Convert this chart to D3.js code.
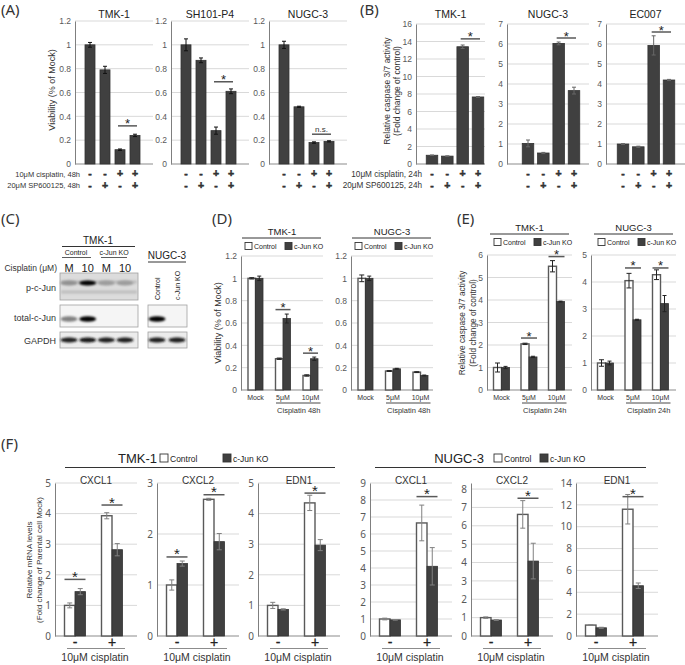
<!DOCTYPE html>
<html><head><meta charset="utf-8">
<script src="https://cdn.jsdelivr.net/npm/d3@7"></script>
<style>body{margin:0;background:#fff}</style>
</head><body>
<script>
// ---------------- DATA ----------------
const signCis = ["-","-","+","+"];
const signSp  = ["-","+","-","+"];

const aCells = ["TMK-1","SH101-P4","NUGC-3"];
const aViability    = [[1.00,0.79,0.12,0.24],[1.00,0.87,0.28,0.61],[1.00,0.48,0.18,0.19]];
const aViabilityErr = [[0.02,0.03,0.006,0.01],[0.05,0.02,0.03,0.02],[0.03,0.005,0.006,0.005]];
const aSigY = [0.32,0.69,0.25];
const aSigText = ["*","*","n.s."];
const aTicks = [0,0.2,0.4,0.6,0.8,1,1.2];

const bCells = ["TMK-1","NUGC-3","EC007"];
const bCaspase    = [[1.00,0.90,13.4,7.66],[1.03,0.55,6.03,3.67],[1.00,0.86,5.93,4.20]];
const bCaspaseErr = [[0.03,0.03,0.20,0.05],[0.17,0.03,0.07,0.17],[0.02,0.03,0.48,0.03]];
const bSigY = [14.3,6.3,6.6];
const bTicks = [[0,2,4,6,8,10,12,14,16],[0,1,2,3,4,5,6,7],[0,1,2,3,4,5,6,7]];

const cLanesTMK = ["M","10","M","10"];
const cGroupsTMK = ["Control","c-Jun KO"];
const cRows = ["p-c-Jun","total-c-Jun","GAPDH"];
const cPcJunTMK = [0.22,1.0,0.15,0.15];
const cTotalTMK = [0.3,1.0,0,0];
const cTotalNUGC = [1.0,0];
const cGapdhTMK = [0.85,0.9,0.85,0.85];
const cGapdhNUGC = [0.85,0.85];

const doseLabels = ["Mock","5μM","10μM"];
const dCells = ["TMK-1","NUGC-3"];
const dControl    = [[1.00,0.28,0.13],[1.00,0.17,0.16]];
const dControlErr = [[0.006,0.006,0.006],[0.03,0.004,0.004]];
const dKO         = [[1.00,0.64,0.28],[1.00,0.19,0.13]];
const dKOErr      = [[0.02,0.04,0.015],[0.02,0.004,0.004]];
const dSig = [[null,0.72,0.33],[null,null,null]];

const eCells = ["TMK-1","NUGC-3"];
const eControl    = [[1.00,2.05,5.50],[1.00,4.05,4.27]];
const eControlErr = [[0.20,0.03,0.25],[0.12,0.27,0.18]];
const eKO         = [[1.00,1.47,3.93],[1.00,2.60,3.20]];
const eKOErr      = [[0.05,0.03,0.02],[0.07,0.02,0.30]];
const eSig = [[null,2.31,5.93],[null,4.52,4.52]];
const eTicks = [[0,1,2,3,4,5,6],[0,1,2,3,4,5]];

const fGenes = ["CXCL1","CXCL2","EDN1"];
const fCis = ["-","+"];
const fTmkControl    = [[1.00,3.93],[1.00,2.68],[1.00,4.35]];
const fTmkControlErr = [[0.08,0.10],[0.10,0.02],[0.10,0.25]];
const fTmkKO         = [[1.45,2.82],[1.42,1.85],[0.87,2.97]];
const fTmkKOErr      = [[0.10,0.20],[0.05,0.16],[0.02,0.18]];
const fTmkSig = [[1.85,4.28],[1.55,2.77],[null,4.67]];
const fTmkTicks = [[0,1,2,3,4,5],[0,1,2,3],[0,1,2,3,4,5]];
const fNugControl    = [[1.00,6.65],[1.00,6.62],[1.00,11.6]];
const fNugControlErr = [[0.05,1.05],[0.04,0.75],[0.02,1.35]];
const fNugKO         = [[0.95,4.10],[0.87,4.08],[0.75,4.60]];
const fNugKOErr      = [[0.02,1.10],[0.02,0.97],[0.05,0.25]];
const fNugSig = [[null,8.2],[null,7.5],[null,12.75]];
const fNugTicks = [[0,1,2,3,4,5,6,7,8,9],[0,1,2,3,4,5,6,7,8],[0,2,4,6,8,10,12,14]];
const fNugMax = [9,8.33,14];

// ---------------- HELPERS ----------------
const svg = d3.select("body").append("svg").attr("width",685).attr("height",665);
const SANS = "'Liberation Sans', Arial, Helvetica, sans-serif";
const NOTO = "'Noto Sans', 'Open Sans', sans-serif";
const DARK = "#404040";
const defs = svg.append("defs");
defs.append("filter").attr("id","blur").attr("x","-50%").attr("y","-100%").attr("width","200%").attr("height","300%")
  .append("feGaussianBlur").attr("stdDeviation",1.1);

function text(x,y,s,o={}){
  const t = svg.append("text").attr("x",x).attr("y",y).text(s)
    .attr("font-family",o.ff||SANS).attr("font-size",o.fs||9)
    .attr("fill",o.fill||"#222").attr("text-anchor",o.anchor||"middle");
  if(o.fw) t.attr("font-weight",o.fw);
  if(o.stroke) t.attr("stroke",o.stroke).attr("stroke-width",o.sw||0.4);
  if(o.rot) t.attr("transform",`rotate(-90 ${x} ${y})`);
  return t;
}
function line(x1,y1,x2,y2,c="#555",w=1){
  return svg.append("line").attr("x1",x1).attr("y1",y1).attr("x2",x2).attr("y2",y2)
    .attr("stroke",c).attr("stroke-width",w);
}
function frame(o){
  const y = d3.scaleLinear().domain([0,o.max]).range([o.yb,o.yt]);
  svg.append("g").selectAll("line").data(o.ticks.filter(t=>t>0)).join("line")
    .attr("x1",o.x0).attr("x2",o.x1).attr("y1",d=>y(d)).attr("y2",d=>y(d))
    .attr("stroke","#d9d9d9").attr("stroke-width",1);
  const ax = svg.append("g").attr("transform",`translate(${o.x0},0)`)
    .call(d3.axisLeft(y).tickValues(o.ticks).tickSize(0).tickSizeOuter(0)
      .tickPadding(o.pad||4).tickFormat(d3.format("~g")));
  ax.select(".domain").attr("stroke","#7f7f7f").attr("stroke-width",1);
  ax.selectAll(".tick text").attr("font-family",o.ff||SANS).attr("font-size",o.fs||8.5).attr("fill","#595959");
  line(o.x0,o.yb,o.x1,o.yb,"#8c8c8c",1.2);
  return y;
}
function drawBars(y,xs,vals,errs,w,st){
  svg.append("g").selectAll("rect").data(vals).join("rect")
    .attr("x",(d,i)=>xs[i]-w/2+(st.shift||0)).attr("y",d=>y(d))
    .attr("width",w).attr("height",d=>y(0)-y(d))
    .attr("fill",st.fill).attr("stroke",st.stroke).attr("stroke-width",st.sw);
  const eg = svg.append("g").attr("stroke",st.err).attr("stroke-width",1);
  vals.forEach((v,i)=>{
    const x = xs[i]+(st.shift||0), lo=y(v-errs[i]), hi=y(v+errs[i]), c=st.cap/2;
    eg.append("line").attr("x1",x).attr("x2",x).attr("y1",lo).attr("y2",hi);
    eg.append("line").attr("x1",x-c).attr("x2",x+c).attr("y1",hi).attr("y2",hi);
    eg.append("line").attr("x1",x-c).attr("x2",x+c).attr("y1",lo).attr("y2",lo);
  });
}
function sig(x1,x2,yy,label,fs=13){
  line(x1,yy,x2,yy,"#595959",1.5);
  if(label==="*") text((x1+x2)/2,yy+2.5,label,{fs:fs,fill:"#222"});
  else text((x1+x2)/2,yy-2.5,label,{fs:8,fill:"#333"});
}
function panelLabel(x,y,s){ text(x,y,s,{ff:NOTO,fs:15,anchor:"start",fill:"#333"}); }
function signRows(xs){
  signCis.forEach((s,i)=>text(xs[i],176.8,s,{fs:10.5,fw:"bold",fill:"#333",stroke:"#333",sw:0.5}));
  signSp.forEach((s,i)=>text(xs[i],188.5,s,{fs:10.5,fw:"bold",fill:"#333",stroke:"#333",sw:0.5}));
}

// ---------------- (A) ----------------
panelLabel(1,15,"(A)");
const aX0 = [75,171,269];
aCells.forEach((cell,k)=>{
  const x0=aX0[k], x1=x0+78;
  const y = frame({x0,x1,yt:21,yb:164,max:1.2,ticks:aTicks});
  const x = d3.scalePoint().domain(d3.range(signCis.length)).range([x0+15,x0+60]);
  const xs = d3.range(signCis.length).map(x);
  drawBars(y,xs,aViability[k],aViabilityErr[k],10,{fill:DARK,stroke:"#333",sw:0.8,err:"#111",cap:4});
  text((x0+x1)/2,18,cell,{fs:10.5});
  sig(xs[2]-2,xs[3]+2,y(aSigY[k]),aSigText[k]);
  signRows(xs);
});
text(80,176.5,"10μM cisplatin, 48h",{fs:7.5,anchor:"end",fill:"#333"});
text(80,187.5,"20μM SP600125, 48h",{fs:7.5,anchor:"end",fill:"#333"});
text(55,90,"Viability (% of Mock)",{fs:9,rot:true,fill:"#333"});

// ---------------- (B) ----------------
panelLabel(360,15,"(B)");
const bX0=[416,507,606], bX1=[485,589,685], bOff=[16,21,17];
bCells.forEach((cell,k)=>{
  const x0=bX0[k], x1=bX1[k], tk=bTicks[k];
  const y = frame({x0,x1,yt:24,yb:164,max:tk[tk.length-1],ticks:tk});
  const x = d3.scalePoint().domain(d3.range(signCis.length)).range([x0+bOff[k],x0+bOff[k]+46]);
  const xs = d3.range(signCis.length).map(x);
  drawBars(y,xs,bCaspase[k],bCaspaseErr[k],11.5,{fill:DARK,stroke:"#333",sw:0.8,err:"#666",cap:4});
  text((x0+x1)/2,18,cell,{fs:10.5});
  sig(xs[2]-2,xs[3]+2,y(bSigY[k]),"*");
  signRows(xs);
});
text(422,176.5,"10μM cisplatin, 24h",{fs:8.2,anchor:"end",fill:"#333"});
text(422,187.5,"20μM SP600125, 24h",{fs:8.2,anchor:"end",fill:"#333"});
text(390,91,"Relative caspase 3/7 activity",{fs:8.5,rot:true,fill:"#333"});
text(400,91,"(Fold change of control)",{fs:8.5,rot:true,fill:"#333"});

// ---------------- (C) ----------------
panelLabel(1,224,"(C)");
text(98,244,"TMK-1",{fs:10});
line(62,246.5,135,246.5,"#333",1);
text(76,255,cGroupsTMK[0],{fs:7});
text(114,255,cGroupsTMK[1],{fs:7});
line(62,257.5,91,257.5,"#333",0.8);
line(101,257.5,127,257.5,"#333",0.8);
text(57,271,"Cisplatin (μM)",{fs:8.5,anchor:"end",fill:"#333"});
const laneX = d3.scalePoint().domain(d3.range(cLanesTMK.length)).range([69,125]);
cLanesTMK.forEach((s,i)=>text(laneX(i),272,s,{fs:11}));
const rowY = [[273,300],[305,327],[332,348]];
cRows.forEach((r,i)=>text(56,[291,321,344][i],r,{fs:9,anchor:"end",fill:"#333"}));
const boxFill = ["#dcdcdc","#f5f5f5","#ececec"];
function blotBox(x0,x1,r){
  svg.append("rect").attr("x",x0).attr("y",rowY[r][0]).attr("width",x1-x0).attr("height",rowY[r][1]-rowY[r][0])
    .attr("fill",boxFill[r]).attr("stroke","#a0a0a0").attr("stroke-width",0.8);
}
function band(cx,cy,rx,ry,v){
  if(v<=0) return;
  svg.append("ellipse").attr("cx",cx).attr("cy",cy).attr("rx",rx).attr("ry",ry)
    .attr("fill",d3.interpolateRgb("#b8b8b8","#000")(v)).attr("filter","url(#blur)");
}
[0,1,2].forEach(r=>blotBox(60,138,r));
[282,292].forEach(yy=>svg.append("rect").attr("x",61).attr("y",yy-1.5).attr("width",76).attr("height",3)
  .attr("fill","#bdbdbd").attr("filter","url(#blur)"));
cPcJunTMK.forEach((v,i)=>band(laneX(i),283,8.5,2.6,v));
cTotalTMK.forEach((v,i)=>band(laneX(i),319,8.5,2.8,v));
cGapdhTMK.forEach((v,i)=>band(laneX(i),340,8.5,2.6,v));
text(167,259,"NUGC-3",{fs:10});
line(148,262,186,262,"#333",1);
const laneN = d3.scalePoint().domain(d3.range(cTotalNUGC.length)).range([157,177]);
cGroupsTMK.forEach((s,i)=>text(laneN(i)+3,300,s,{fs:7,rot:true,anchor:"start"}));
[1,2].forEach(r=>blotBox(148,187,r));
cTotalNUGC.forEach((v,i)=>band(laneN(i),319,8.5,2.8,v));
cGapdhNUGC.forEach((v,i)=>band(laneN(i),340,8.5,2.6,v));

// ------------- grouped (D)/(E) -------------
function groupPanel(o){
  const y = frame({x0:o.x0,x1:o.x1,yt:o.yt,yb:390,max:o.max,ticks:o.ticks});
  const x = d3.scalePoint().domain(doseLabels).range([o.x0+14.5,o.x0+69.5]);
  const xs = doseLabels.map(x), w=o.w;
  drawBars(y,xs,o.ctrl,o.ctrlErr,w,{fill:"#fff",stroke:"#595959",sw:1.4,err:"#222",cap:5,shift:-w/2});
  drawBars(y,xs,o.ko,o.koErr,w,{fill:DARK,stroke:"#333",sw:0.8,err:"#222",cap:4,shift:w/2});
  o.sig.forEach((s,i)=>{ if(s!=null) sig(xs[i]-w,xs[i]+w,y(s),"*"); });
  text((o.x0+o.x1)/2,o.titleY,o.title,{fs:9.5});
  line(o.x0+o.lineOff,o.titleY+3,o.x0+o.lineOff+79,o.titleY+3,"#333",1);
  const ly=o.titleY+11;
  svg.append("rect").attr("x",o.x0+o.legOff).attr("y",ly-3.5).attr("width",7).attr("height",7)
    .attr("fill","#fff").attr("stroke","#333").attr("stroke-width",0.9);
  text(o.x0+o.legOff+9,ly+2.5,"Control",{fs:7,anchor:"start"});
  svg.append("rect").attr("x",o.x0+o.legOff+40).attr("y",ly-3.5).attr("width",7).attr("height",7)
    .attr("fill",DARK).attr("stroke","#333").attr("stroke-width",0.9);
  text(o.x0+o.legOff+49,ly+2.5,"c-Jun KO",{fs:7,anchor:"start"});
  doseLabels.forEach((d,i)=>text(xs[i],400,d,{fs:7,fill:"#333"}));
  line(xs[1]-7,403,xs[2]+10,403,"#333",0.9);
  text((xs[1]+xs[2])/2+2,413,o.xlab,{fs:7.5,fill:"#333"});
}
panelLabel(212,224,"(D)");
const dX0=[241,351];
dCells.forEach((cell,k)=>groupPanel({x0:dX0[k],x1:dX0[k]+82,yt:256,max:1.2,ticks:aTicks,w:7.5,
  ctrl:dControl[k],ctrlErr:dControlErr[k],ko:dKO[k],koErr:dKOErr[k],sig:dSig[k],
  title:cell,titleY:235,lineOff:1,legOff:4,xlab:"Cisplatin 48h"}));
text(221,323,"Viability (% of Mock)",{fs:9,rot:true,fill:"#333"});

panelLabel(457,224,"(E)");
const eX0=[487,591];
eCells.forEach((cell,k)=>{
  const tk=eTicks[k];
  groupPanel({x0:eX0[k],x1:eX0[k]+85,yt:255,max:tk[tk.length-1],ticks:tk,w:8,
    ctrl:eControl[k],ctrlErr:eControlErr[k],ko:eKO[k],koErr:eKOErr[k],sig:eSig[k],
    title:cell,titleY:231,lineOff:3,legOff:7,xlab:"Cisplatin 24h"});
});
text(465,323,"Relative caspase 3/7 activity",{fs:8.3,rot:true,fill:"#333"});
text(476,323,"(Fold change of control)",{fs:8.3,rot:true,fill:"#333"});

// ---------------- (F) ----------------
panelLabel(1,449,"(F)");
function fHeader(name,xEnd,boxC,boxK,l1,l2){
  text(xEnd,463,name,{fs:13,anchor:"end",fill:"#222"});
  svg.append("rect").attr("x",boxC).attr("y",454).attr("width",8).attr("height",8)
    .attr("fill","#fff").attr("stroke","#333").attr("stroke-width",0.9);
  text(boxC+10,461.5,"Control",{fs:8.5,anchor:"start"});
  svg.append("rect").attr("x",boxK).attr("y",454).attr("width",8).attr("height",8)
    .attr("fill",DARK).attr("stroke","#333").attr("stroke-width",0.9);
  text(boxK+10,461.5,"c-Jun KO",{fs:8.5,anchor:"start"});
  line(l1,467.5,l2,467.5,"#333",1);
}
fHeader("TMK-1",157,160,223,65,335);
fHeader("NUGC-3",484,494,540,375,646);
function genePanel(x0,max,ticks,ctrl,ctrlErr,ko,koErr,sg,gene){
  const y = frame({x0,x1:x0+82,yt:483,yb:636,max,ticks,fs:10,ff:NOTO});
  const x = d3.scalePoint().domain(fCis).range([x0+20,x0+57]);
  const xs = fCis.map(x), w=10.5;
  drawBars(y,xs,ctrl,ctrlErr,w,{fill:"#fff",stroke:"#595959",sw:1.4,err:"#808080",cap:5,shift:-w/2});
  drawBars(y,xs,ko,koErr,w,{fill:DARK,stroke:"#333",sw:0.8,err:"#808080",cap:5,shift:w/2});
  sg.forEach((s,i)=>{ if(s!=null) sig(xs[i]-w,xs[i]+w,y(s),"*",15); });
  text(x0+41,484,gene,{fs:10,fill:"#333"});
  fCis.forEach((s,i)=>text(xs[i],646.5,s,{fs:14,fill:"#222",stroke:"#222",sw:0.3}));
  line(x0+12,648.5,x0+70,648.5,"#8c8c8c",1);
  text(x0+40,661,"10μM cisplatin",{fs:10.5,fill:"#333"});
}
const fTmkX0=[55,157,258], fNugX0=[370,471,576];
fGenes.forEach((g,k)=>{
  const tk=fTmkTicks[k];
  genePanel(fTmkX0[k],tk[tk.length-1],tk,fTmkControl[k],fTmkControlErr[k],fTmkKO[k],fTmkKOErr[k],fTmkSig[k],g);
  genePanel(fNugX0[k],fNugMax[k],fNugTicks[k],fNugControl[k],fNugControlErr[k],fNugKO[k],fNugKOErr[k],fNugSig[k],g);
});
text(32,560,"Relative mRNA levels",{fs:8,rot:true,fill:"#333"});
text(42,560,"(Fold change of Parental cell Mock)",{fs:8,rot:true,fill:"#333"});
</script>
</body></html>
